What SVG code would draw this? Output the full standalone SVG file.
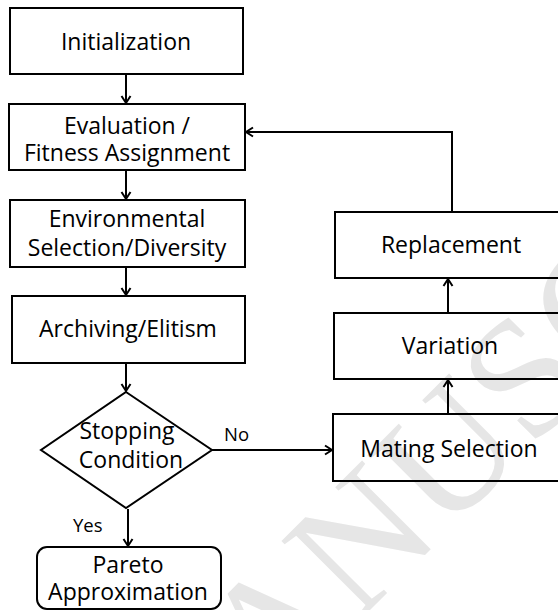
<svg xmlns="http://www.w3.org/2000/svg" width="558" height="610" viewBox="0 0 558 610">
<style>
.box{fill:none;stroke:#000;stroke-width:2}
.t{font-family:"Open Sans","Noto Sans",sans-serif;font-size:23px;fill:#000;text-anchor:middle}
.lbl{font-family:"Open Sans","Noto Sans",sans-serif;font-size:18.5px;fill:#000}
.c{fill:none;stroke:#000;stroke-width:2}
.wm{font-family:"Liberation Serif",serif;font-size:170px;fill:#e6e6e6}
</style>
<defs>
<marker id="ah" markerUnits="userSpaceOnUse" markerWidth="12" markerHeight="12" refX="9" refY="6" orient="auto">
<path d="M2,1.5 L9,6 L2,10.5" fill="none" stroke="#000" stroke-width="2"/>
</marker>
</defs>
<rect width="558" height="610" fill="#fff"/>
<text class="wm" x="163" y="817" transform="rotate(-45 163 817)">MANUSCRIPT</text>
<g id="initialization"><rect class="box" x="10" y="8" width="233" height="66"/><text class="t" x="126" y="50">Initialization</text></g>
<g id="evaluation"><rect class="box" x="9" y="104" width="236" height="66"/><text class="t" x="127" y="134">Evaluation /</text><text class="t" x="127" y="161">Fitness Assignment</text></g>
<g id="environmental"><rect class="box" x="10" y="200" width="235" height="67"/><text class="t" x="127" y="227">Environmental</text><text class="t" x="127" y="256">Selection/Diversity</text></g>
<g id="archiving"><rect class="box" x="12" y="296" width="233" height="67"/><text class="t" x="128" y="337">Archiving/Elitism</text></g>
<g id="stopping"><polygon class="box" points="126,392 212,450 126,508 41,450"/><text class="t" x="127" y="439">Stopping</text><text class="t" x="131" y="468">Condition</text></g>
<g id="pareto"><rect class="box" x="37" y="547" width="184" height="62" rx="10"/><text class="t" x="128" y="573">Pareto</text><text class="t" x="128" y="600">Approximation</text></g>
<g id="mating"><rect class="box" x="333" y="414" width="234" height="67"/><text class="t" x="449" y="457">Mating Selection</text></g>
<g id="variation"><rect class="box" x="334" y="313" width="233" height="66"/><text class="t" x="450" y="354">Variation</text></g>
<g id="replacement"><rect class="box" x="335" y="212" width="232" height="66"/><text class="t" x="451" y="253">Replacement</text></g>
<g id="connectors">
<line class="c" x1="126" y1="75" x2="126" y2="103" marker-end="url(#ah)"/>
<line class="c" x1="126" y1="171" x2="126" y2="199" marker-end="url(#ah)"/>
<line class="c" x1="126" y1="268" x2="126" y2="295" marker-end="url(#ah)"/>
<line class="c" x1="126" y1="364" x2="126" y2="391" marker-end="url(#ah)"/>
<line class="c" x1="128" y1="509" x2="128" y2="546" marker-end="url(#ah)"/>
<line class="c" x1="212" y1="450" x2="332" y2="450" marker-end="url(#ah)"/>
<line class="c" x1="448" y1="413" x2="448" y2="380" marker-end="url(#ah)"/>
<line class="c" x1="448" y1="312" x2="448" y2="279" marker-end="url(#ah)"/>
<path class="c" d="M452,211 V132 H246" marker-end="url(#ah)"/>
<text class="lbl" x="224" y="441">No</text>
<text class="lbl" x="73" y="532">Yes</text>
</g>
</svg>
